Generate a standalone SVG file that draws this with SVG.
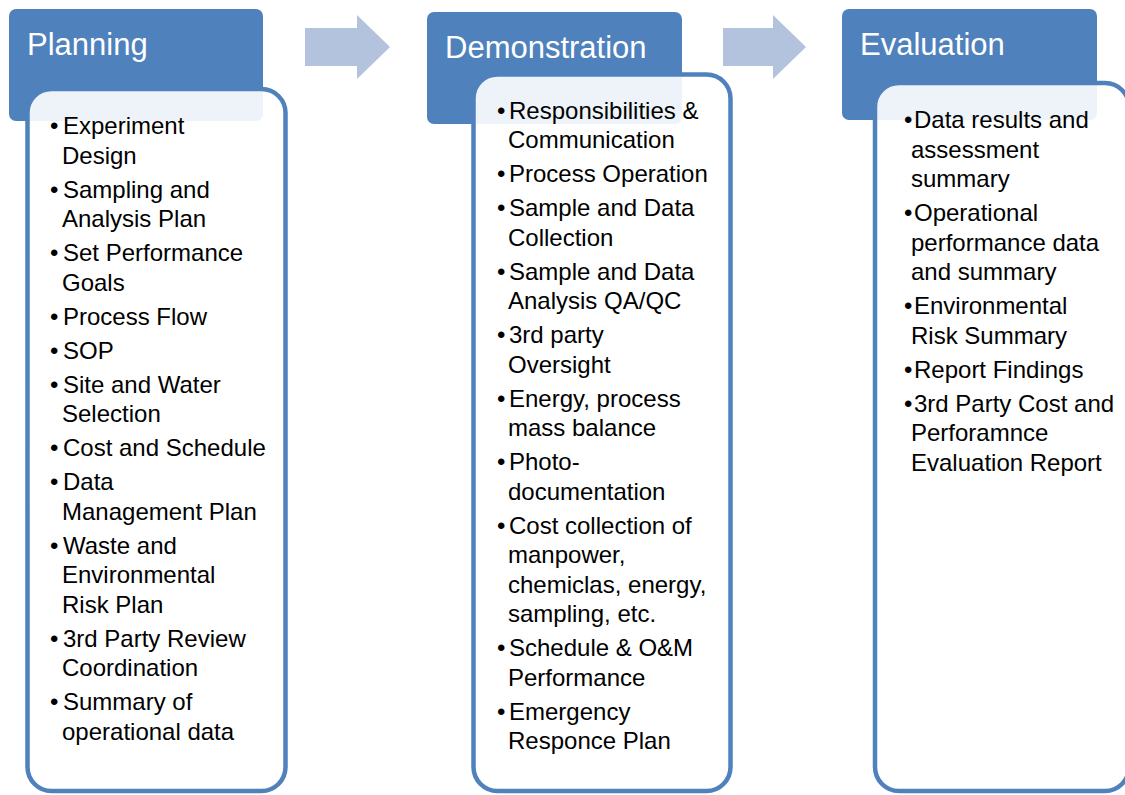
<svg xmlns="http://www.w3.org/2000/svg" width="1125" height="795" viewBox="0 0 1125 795">
<style>
.hdr{fill:#4F81BD;}
.body{fill:#FFFFFF;fill-opacity:0.9;stroke:#4F81BD;stroke-width:4.5;}
.ht{font-family:"Liberation Sans",Arial,sans-serif;font-size:31px;fill:#FFFFFF;}
.t{font-family:"Liberation Sans",Arial,sans-serif;font-size:24px;fill:#000000;}
.arrow{fill:#B3C3DE;}
</style>
<rect width="1125" height="795" fill="#FFFFFF"/>
<g id="connectors">
<polygon class="arrow" points="305,28 357,28 357,15 390,47 357,79 357,66 305,66"/>
<polygon class="arrow" points="723,28 773,28 773,15 806,47 773,79 773,66 723,66"/>
</g>
<g id="planning">
<rect class="hdr" x="9" y="9" width="254" height="112" rx="7"/>
<rect class="body" x="27.5" y="89" width="258" height="702" rx="24"/>
<text class="ht" x="27" y="55">Planning</text>
<g class="t">
<text x="50" y="134">•</text><text x="63" y="134">Experiment</text>
<text x="62" y="163.5">Design</text>
<text x="50" y="197.5">•</text><text x="63" y="197.5">Sampling and</text>
<text x="62" y="227">Analysis Plan</text>
<text x="50" y="261">•</text><text x="63" y="261">Set Performance</text>
<text x="62" y="290.5">Goals</text>
<text x="50" y="324.5">•</text><text x="63" y="324.5">Process Flow</text>
<text x="50" y="358.5">•</text><text x="63" y="358.5">SOP</text>
<text x="50" y="392.5">•</text><text x="63" y="392.5">Site and Water</text>
<text x="62" y="422">Selection</text>
<text x="50" y="456">•</text><text x="63" y="456">Cost and Schedule</text>
<text x="50" y="490">•</text><text x="63" y="490">Data</text>
<text x="62" y="519.5">Management Plan</text>
<text x="50" y="553.5">•</text><text x="63" y="553.5">Waste and</text>
<text x="62" y="583">Environmental</text>
<text x="62" y="612.5">Risk Plan</text>
<text x="50" y="646.5">•</text><text x="63" y="646.5">3rd Party Review</text>
<text x="62" y="676">Coordination</text>
<text x="50" y="710">•</text><text x="63" y="710">Summary of</text>
<text x="62" y="739.5">operational data</text>
</g>
</g>
<g id="demonstration">
<rect class="hdr" x="427" y="12" width="255" height="112" rx="7"/>
<rect class="body" x="473.5" y="74.5" width="257" height="716.5" rx="24"/>
<text class="ht" x="445" y="58">Demonstration</text>
<g class="t">
<text x="497" y="118.5">•</text><text x="509" y="118.5">Responsibilities &amp;</text>
<text x="508" y="148">Communication</text>
<text x="497" y="182">•</text><text x="509" y="182">Process Operation</text>
<text x="497" y="216">•</text><text x="509" y="216">Sample and Data</text>
<text x="508" y="245.5">Collection</text>
<text x="497" y="279.5">•</text><text x="509" y="279.5">Sample and Data</text>
<text x="508" y="309">Analysis QA/QC</text>
<text x="497" y="343">•</text><text x="509" y="343">3rd party</text>
<text x="508" y="372.5">Oversight</text>
<text x="497" y="406.5">•</text><text x="509" y="406.5">Energy, process</text>
<text x="508" y="436">mass balance</text>
<text x="497" y="470">•</text><text x="509" y="470">Photo-</text>
<text x="508" y="499.5">documentation</text>
<text x="497" y="533.5">•</text><text x="509" y="533.5">Cost collection of</text>
<text x="508" y="563">manpower,</text>
<text x="508" y="592.5">chemiclas, energy,</text>
<text x="508" y="622">sampling, etc.</text>
<text x="497" y="656">•</text><text x="509" y="656">Schedule &amp; O&amp;M</text>
<text x="508" y="685.5">Performance</text>
<text x="497" y="719.5">•</text><text x="509" y="719.5">Emergency</text>
<text x="508" y="749">Responce Plan</text>
</g>
</g>
<g id="evaluation">
<rect class="hdr" x="842" y="9" width="255" height="111" rx="7"/>
<rect class="body" x="875" y="83" width="254" height="708" rx="24"/>
<text class="ht" x="860" y="55">Evaluation</text>
<g class="t">
<text x="904" y="128">•</text><text x="914" y="128">Data results and</text>
<text x="911" y="157.5">assessment</text>
<text x="911" y="187">summary</text>
<text x="904" y="221">•</text><text x="914" y="221">Operational</text>
<text x="911" y="250.5">performance data</text>
<text x="911" y="280">and summary</text>
<text x="904" y="314">•</text><text x="914" y="314">Environmental</text>
<text x="911" y="343.5">Risk Summary</text>
<text x="904" y="377.5">•</text><text x="914" y="377.5">Report Findings</text>
<text x="904" y="411.5">•</text><text x="914" y="411.5">3rd Party Cost and</text>
<text x="911" y="441">Perforamnce</text>
<text x="911" y="470.5">Evaluation Report</text>
</g>
</g>
</svg>
